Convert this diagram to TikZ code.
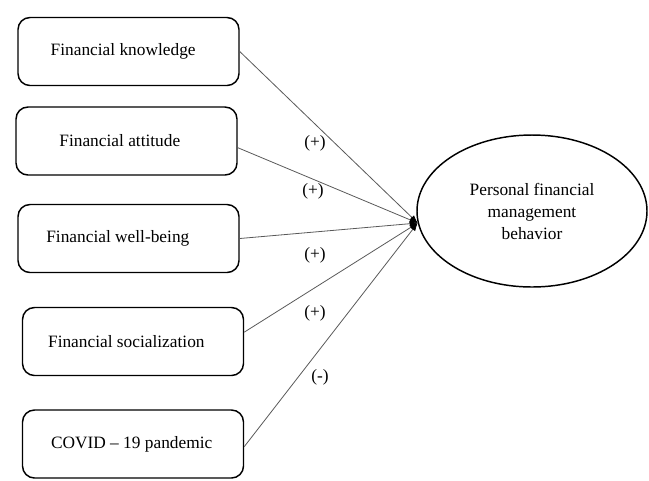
\documentclass[tikz,border=0pt]{standalone}
\usepackage{fontspec}
\setmainfont{Liberation Serif}
\usetikzlibrary{shapes.geometric,arrows.meta}

\begin{document}
\begin{tikzpicture}[x=0.75pt,y=-0.75pt,
  every node/.style={font=\fontsize{13}{16.5}\selectfont},
  factor/.style={draw, line width=1.1pt, rounded corners=9pt,
    minimum width=165.75pt, minimum height=51pt, inner sep=0pt},
  outcome/.style={draw, ellipse, line width=1.1pt, align=center,
    minimum width=172.5pt, minimum height=114pt, inner sep=0pt},
  path/.style={draw=black!65, line width=0.6pt,
    -{Latex[length=6pt,width=4.5pt,color=black]}},
  sign/.style={inner sep=1pt}]

\useasboundingbox (0,0) rectangle (649,480);

\node[factor] (know) at (128.5,51.5) {\raisebox{2.5pt}{Financial knowledge}\hspace*{8pt}};
\node[factor] (att)  at (126.5,141) {Financial attitude\hspace*{10pt}};
\node[factor] (well) at (128.5,238.5) {Financial well-being\hspace*{16pt}};
\node[factor] (soc)  at (133,341.5) {Financial socialization\hspace*{10pt}};
\node[factor] (cov)  at (133,444) {\raisebox{-2pt}{COVID -- 19 pandemic}\hspace*{2pt}};

\node[outcome] (pfmb) at (532,211) {Personal financial\\management\\behavior};
\coordinate (tip) at (pfmb.186);

\draw[path] (know.east) -- (tip);
\draw[path] ([yshift=-5pt]att.east) -- (tip);
\draw[path] (well.east) -- (tip);
\draw[path] ([yshift=7pt]soc.east) -- (tip);
\draw[path] ([yshift=-2pt]cov.east) -- (tip);

\node[sign] (s1) at (315,143) {(+)};
\node[sign] (s2) at (313,191) {(+)};
\node[sign] (s3) at (315,255) {(+)};
\node[sign] (s4) at (315,313) {(+)};
\node[sign] (s5) at (320,377) {(-)};
\end{tikzpicture}
\end{document}
